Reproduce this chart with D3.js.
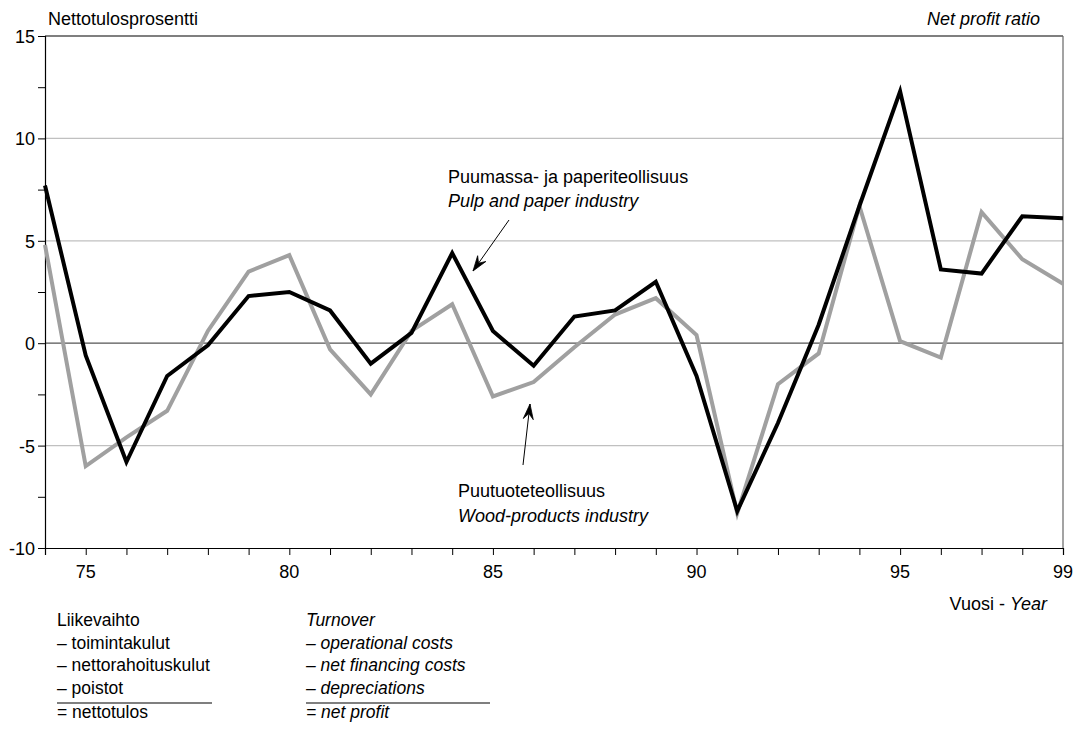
<!DOCTYPE html>
<html>
<head>
<meta charset="utf-8">
<script src="https://cdn.jsdelivr.net/npm/d3@7"></script>
<style>
  html, body { margin: 0; padding: 0; background: #fff; }
  svg text { font-family: "Liberation Sans", Arial, sans-serif; fill: #000; }
</style>
</head>
<body>
<svg id="chart" width="1078" height="731"></svg>
<script>
const years = d3.range(1974, 2000);
const pulpPaper = [7.7, -0.6, -5.8, -1.6, -0.1, 2.3, 2.5, 1.6, -1.0, 0.5, 4.4, 0.6, -1.1, 1.3, 1.6, 3.0, -1.6, -8.2, -3.9, 0.9, 6.7, 12.3, 3.6, 3.4, 6.2, 6.1];
const woodProducts = [4.8, -6.0, -4.6, -3.3, 0.6, 3.5, 4.3, -0.3, -2.5, 0.6, 1.9, -2.6, -1.9, -0.2, 1.4, 2.2, 0.4, -8.3, -2.0, -0.5, 6.7, 0.1, -0.7, 6.4, 4.1, 2.9];
const yTicks = [-10, -5, 0, 5, 10, 15];
const yMinorTicks = [-7.5, -2.5, 2.5, 7.5, 12.5];
const xLabelYears = [1975, 1980, 1985, 1990, 1995, 1999];
const gridValues = [-5, 5, 10];

const fiLines = ["Liikevaihto", "– toimintakulut", "– nettorahoituskulut", "– poistot", "= nettotulos"];
const enLines = ["Turnover", "– operational costs", "– net financing costs", "– depreciations", "= net profit"];
const legendBaselines = [626, 648.5, 671, 694, 718];

const svg = d3.select("#chart");
const x = d3.scaleLinear().domain([1974, 1999]).range([45, 1063]);
const y = d3.scaleLinear().domain([-10, 15]).range([548, 36]);

// gridlines
svg.append("g").selectAll("line").data(gridValues).join("line")
  .attr("x1", x(1974)).attr("x2", x(1999))
  .attr("y1", d => y(d)).attr("y2", d => y(d))
  .attr("stroke", "#c0c0c0").attr("stroke-width", 1.2);
// zero line
svg.append("line").attr("x1", x(1974)).attr("x2", x(1999))
  .attr("y1", y(0)).attr("y2", y(0)).attr("stroke", "#555").attr("stroke-width", 1.2);
// top border
svg.append("line").attr("x1", x(1974)).attr("x2", x(1999))
  .attr("y1", y(15)).attr("y2", y(15)).attr("stroke", "#000").attr("stroke-width", 1.2);
// right border
svg.append("line").attr("x1", x(1999)).attr("x2", x(1999))
  .attr("y1", y(15)).attr("y2", y(-10)).attr("stroke", "#666").attr("stroke-width", 1.2);

// y axis
const yAxis = svg.append("g").attr("transform", `translate(${x(1974)},0)`)
  .call(d3.axisLeft(y).tickValues(yTicks).tickSize(7).tickPadding(3).tickFormat(d => String(d)));
yAxis.select(".domain").attr("stroke", "#000").attr("stroke-width", 1.2);
yAxis.selectAll(".tick line").attr("stroke", "#000");
yAxis.selectAll("text").style("font-size", "18px").attr("dy", "0.36em");
svg.append("g").attr("transform", `translate(${x(1974)},0)`)
  .call(d3.axisLeft(y).tickValues(yMinorTicks).tickSize(7).tickFormat(""))
  .call(g => g.select(".domain").remove())
  .selectAll(".tick line").attr("stroke", "#000");

// x axis
const xAxis = svg.append("g").attr("transform", `translate(0,${y(-10)})`)
  .call(d3.axisBottom(x).tickValues(years).tickSize(7).tickFormat(""));
xAxis.select(".domain").attr("stroke", "#000").attr("stroke-width", 1.2);
xAxis.selectAll(".tick line").attr("stroke", "#000");
svg.append("g").selectAll("text").data(xLabelYears).join("text")
  .attr("x", d => x(d)).attr("y", 578).attr("text-anchor", "middle")
  .style("font-size", "18px").text(d => String(d).slice(2));

// lines
const line = d3.line().x((d, i) => x(years[i])).y(d => y(d));
svg.append("path").datum(woodProducts).attr("d", line)
  .attr("fill", "none").attr("stroke", "#a0a0a0").attr("stroke-width", 4).attr("stroke-linejoin", "miter");
svg.append("path").datum(pulpPaper).attr("d", line)
  .attr("fill", "none").attr("stroke", "#000").attr("stroke-width", 4).attr("stroke-linejoin", "miter");

// titles
svg.append("text").attr("x", 48).attr("y", 25).style("font-size", "18px").text("Nettotulosprosentti");
svg.append("text").attr("x", 1040).attr("y", 25).attr("text-anchor", "end")
  .style("font-size", "18px").style("font-style", "italic").text("Net profit ratio");
const vy = svg.append("text").attr("x", 1047).attr("y", 610).attr("text-anchor", "end").style("font-size", "18px");
vy.append("tspan").text("Vuosi - ");
vy.append("tspan").style("font-style", "italic").text("Year");

// annotations
svg.append("text").attr("x", 448).attr("y", 183).style("font-size", "18px").text("Puumassa- ja paperiteollisuus");
svg.append("text").attr("x", 448).attr("y", 207).style("font-size", "18px").style("font-style", "italic").text("Pulp and paper industry");
svg.append("text").attr("x", 458).attr("y", 497).style("font-size", "18px").text("Puutuoteteollisuus");
svg.append("text").attr("x", 458).attr("y", 522).style("font-size", "18px").style("font-style", "italic").text("Wood-products industry");

function arrow(x1, y1, x2, y2) {
  svg.append("line").attr("x1", x1).attr("y1", y1).attr("x2", x2).attr("y2", y2)
    .attr("stroke", "#000").attr("stroke-width", 1);
  const ang = Math.atan2(y2 - y1, x2 - x1);
  const L = 16, w = 0.32;
  const p1 = [x2 - L * Math.cos(ang - w), y2 - L * Math.sin(ang - w)];
  const p2 = [x2 - L * Math.cos(ang + w), y2 - L * Math.sin(ang + w)];
  const pm = [x2 - 0.6 * L * Math.cos(ang), y2 - 0.6 * L * Math.sin(ang)];
  svg.append("path").attr("d", `M${p1}L${x2},${y2}L${p2}L${pm}Z`).attr("fill", "#000").attr("stroke", "#000").attr("stroke-width", 0.8);
}
arrow(509, 220, 473, 271);
arrow(523, 465, 530, 404);

// bottom legend text
svg.append("g").selectAll("text").data(fiLines).join("text")
  .attr("x", 57).attr("y", (d, i) => legendBaselines[i]).style("font-size", "17.5px").text(d => d);
svg.append("g").selectAll("text").data(enLines).join("text")
  .attr("x", 306).attr("y", (d, i) => legendBaselines[i]).style("font-size", "17.5px").style("font-style", "italic").text(d => d);
svg.append("line").attr("x1", 57).attr("x2", 212).attr("y1", 703).attr("y2", 703).attr("stroke", "#000").attr("stroke-width", 1.2);
svg.append("line").attr("x1", 306).attr("x2", 490).attr("y1", 703).attr("y2", 703).attr("stroke", "#000").attr("stroke-width", 1.2);
</script>
</body>
</html>
